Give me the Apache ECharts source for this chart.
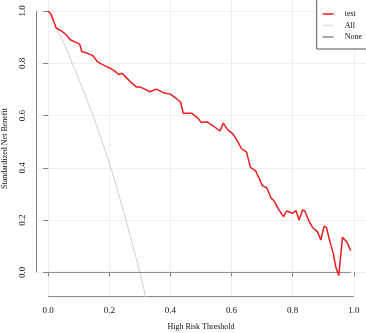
<!DOCTYPE html>
<html>
<head>
<meta charset="utf-8">
<script src="https://cdn.jsdelivr.net/npm/echarts@6/dist/echarts.min.js"></script>
<style>
  html, body { margin: 0; padding: 0; background: #fff; }
  #container { width: 366px; height: 333px; }
</style>
</head>
<body>
<div id="container"></div>
<script>
// threshold / standardized net benefit
var testT = [0, 0.01, 0.026, 0.043, 0.059, 0.072, 0.089, 0.103, 0.11, 0.127, 0.146, 0.162, 0.181, 0.201, 0.218, 0.231, 0.242, 0.254, 0.269, 0.289, 0.302, 0.321, 0.333,
  0.354, 0.38, 0.4, 0.416, 0.433, 0.442, 0.469, 0.49, 0.501, 0.52, 0.54, 0.562, 0.573, 0.588, 0.604, 0.619, 0.632, 0.649,
  0.662, 0.679, 0.69, 0.701, 0.715, 0.73, 0.739, 0.752, 0.77, 0.78, 0.799, 0.811, 0.821, 0.832, 0.84, 0.854, 0.865, 0.881,
  0.892, 0.903, 0.911, 0.922, 0.933, 0.941, 0.951, 0.963, 0.977, 0.99];
var testV = [1.0, 0.986, 0.935, 0.924, 0.909, 0.89, 0.881, 0.873, 0.844, 0.839, 0.829, 0.805, 0.793, 0.782, 0.77, 0.757, 0.762, 0.747, 0.729, 0.709, 0.709, 0.698, 0.691,
  0.701, 0.686, 0.682, 0.668, 0.652, 0.609, 0.609, 0.59, 0.573, 0.576, 0.56, 0.541, 0.571, 0.545, 0.53, 0.503, 0.474, 0.46,
  0.402, 0.388, 0.36, 0.331, 0.324, 0.283, 0.274, 0.245, 0.213, 0.235, 0.226, 0.236, 0.2, 0.239, 0.235, 0.194, 0.172, 0.156,
  0.124, 0.177, 0.171, 0.117, 0.073, 0.021, -0.012, 0.134, 0.117, 0.083];
var allT = [0, 0.05, 0.1, 0.15, 0.2, 0.25, 0.3, 0.32];
var allV = [1.0, 0.88, 0.74, 0.59, 0.42, 0.22, 0.0, -0.10];
var noneT = [0, 0.99];
var noneV = [0, 0];
var seriesNames = ['test', 'All', 'None'];
var tickVals = [0, 0.2, 0.4, 0.6, 0.8, 1.0];

function pairs(xs, ys) {
  return xs.map(function (x, i) { return [x, ys[i]]; });
}

var serif = '"Liberation Serif", "Times New Roman", serif';
var axisGray = '#7f7f7f';
var gridGray = '#efefef';
var yMin = -0.094;

var dom = document.getElementById('container');
var myChart = echarts.init(dom, null, { renderer: 'canvas' });

var option = {
  animation: false,
  backgroundColor: '#fff',
  grid: { left: 36, right: 0, top: 0, bottom: 36, outerBoundsMode: 'none', containLabel: false },
  legend: {
    data: seriesNames,
    orient: 'vertical',
    icon: 'rect',
    right: -10,
    top: -1,
    padding: [11, 14, 8, 6],
    itemWidth: 11,
    itemHeight: 1.5,
    itemGap: 3.5,
    borderColor: '#555',
    borderWidth: 1,
    backgroundColor: '#fff',
    textStyle: { fontFamily: serif, fontSize: 8, color: '#111', padding: [0, 0, 0, 6] }
  },
  xAxis: {
    type: 'value',
    min: -0.04,
    max: 1.04,
    name: 'High Risk Threshold',
    nameLocation: 'middle',
    nameGap: 26,
    nameTextStyle: { fontFamily: serif, fontSize: 8, color: '#111' },
    axisLine: { show: false },
    axisTick: { show: true, customValues: tickVals, length: 4, lineStyle: { color: axisGray } },
    axisLabel: {
      customValues: tickVals, margin: 9, fontFamily: serif, fontSize: 9, color: '#111',
      formatter: function (v) { return v.toFixed(1); }
    },
    splitLine: { show: true, lineStyle: { color: gridGray, width: 1 } }
  },
  yAxis: {
    type: 'value',
    min: yMin,
    max: 1.042,
    name: 'Standardized Net Benefit',
    nameLocation: 'middle',
    nameGap: 27,
    nameTextStyle: { fontFamily: serif, fontSize: 8, color: '#111' },
    axisLine: { show: false },
    axisTick: { show: true, customValues: tickVals, length: 5, lineStyle: { color: axisGray } },
    axisLabel: {
      customValues: tickVals, rotate: 90, margin: 9, fontFamily: serif, fontSize: 9, color: '#111',
      formatter: function (v) { return v.toFixed(1); }
    },
    splitLine: { show: true, lineStyle: { color: gridGray, width: 1 } }
  },
  series: [
    {
      name: 'test', type: 'line', symbol: 'none', z: 5,
      data: pairs(testT, testV),
      lineStyle: { color: '#ee1c1c', width: 1.5 },
      itemStyle: { color: '#ee1c1c' }
    },
    {
      name: 'All', type: 'line', symbol: 'none', z: 3,
      data: pairs(allT, allV),
      lineStyle: { color: '#cfcfcf', width: 1 },
      itemStyle: { color: '#dcdcdc' }
    },
    {
      name: 'None', type: 'line', symbol: 'none', z: 4,
      data: pairs(noneT, noneV),
      lineStyle: { color: '#8a8a8a', width: 1 },
      itemStyle: { color: '#8a8a8a' }
    },
    {
      // detached R-style axis lines (x from 0 to 1, y from 0 to 1)
      name: 'axes', type: 'line', symbol: 'none', z: 2, clip: false, silent: true,
      data: [[tickVals[0], yMin + 0.0015], [tickVals[tickVals.length - 1], yMin + 0.0015]],
      lineStyle: { color: axisGray, width: 1 },
      markLine: {
        silent: true,
        symbol: 'none',
        label: { show: false },
        lineStyle: { color: axisGray, width: 1, type: 'solid' },
        data: [
          [{ coord: [-0.04, tickVals[0]] }, { coord: [-0.04, tickVals[tickVals.length - 1]] }]
        ]
      }
    }
  ]
};

myChart.setOption(option);
window.addEventListener('resize', myChart.resize);
</script>
</body>
</html>
